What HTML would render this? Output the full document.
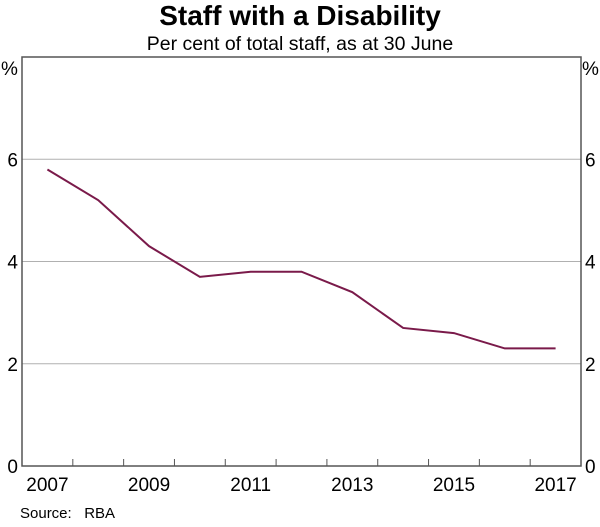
<!DOCTYPE html>
<html><head><meta charset="utf-8"><style>
body{margin:0;background:#fff;}
svg text{font-family:"Liberation Sans",Arial,sans-serif;fill:#000;}
</style></head><body>
<svg width="600" height="522" xmlns="http://www.w3.org/2000/svg">
<text x="300" y="25" text-anchor="middle" font-size="28" font-weight="bold">Staff with a Disability</text>
<text x="300" y="50" text-anchor="middle" font-size="19.5">Per cent of total staff, as at 30 June</text>
<g id="grid"></g>
<g id="yl"></g>
<g id="xt"></g>
<rect x="22" y="57" width="559" height="409" fill="none" stroke="#555" stroke-width="1.5"/>
<text x="1" y="75" font-size="19">%</text>
<text x="582" y="75" font-size="19">%</text>
<path id="line" fill="none" stroke="#7a1a4a" stroke-width="2"/>
<text x="20" y="518" font-size="15" xml:space="preserve">Source:   RBA</text>
</svg>
<script>
const years=[2007,2008,2009,2010,2011,2012,2013,2014,2015,2016,2017];
const values=[5.8,5.2,4.3,3.7,3.8,3.8,3.4,2.7,2.6,2.3,2.3];
const yTicks=[0,2,4,6];
const xLabels=[2007,2009,2011,2013,2015,2017];
const L=22,R=581,T=57,B=466,yMax=8;
const yw=(R-L)/years.length;
function x(yr){return L+(yr-years[0]+0.5)*yw;}
function y(v){return B-(v/yMax)*(B-T);}
const ns="http://www.w3.org/2000/svg";
const grid=document.getElementById('grid'),yl=document.getElementById('yl'),xt=document.getElementById('xt');
yTicks.forEach(t=>{
 if(t>0){const l=document.createElementNS(ns,'line');
 l.setAttribute('x1',L);l.setAttribute('x2',R);l.setAttribute('y1',y(t));l.setAttribute('y2',y(t));
 l.setAttribute('stroke','#b0b0b0');l.setAttribute('stroke-width','1');
 
 
 grid.appendChild(l);}
 [[L-4,'end'],[R+4,'start']].forEach(([px,a])=>{
 const tx=document.createElementNS(ns,'text');
 tx.setAttribute('x',px);tx.setAttribute('y',y(t)+7);tx.setAttribute('text-anchor',a);tx.setAttribute('font-size','19');
 tx.textContent=t;
 
 
 yl.appendChild(tx);});
});
for(let i=1;i<years.length;i++){
 const l=document.createElementNS(ns,'line');const px=L+i*yw;
 l.setAttribute('x1',px);l.setAttribute('x2',px);l.setAttribute('y1',B);l.setAttribute('y2',B-7);
 l.setAttribute('stroke','#555');l.setAttribute('stroke-width','1');
 
 
 xt.appendChild(l);
}
xLabels.forEach(yr=>{
 const tx=document.createElementNS(ns,'text');
 tx.setAttribute('x',x(yr));tx.setAttribute('y',B+25);tx.setAttribute('text-anchor','middle');tx.setAttribute('font-size','19');
 tx.textContent=yr;
 
 
 xt.appendChild(tx);
});
document.getElementById('line').setAttribute('d',years.map((yr,i)=>(i?'L':'M')+x(yr)+','+y(values[i])).join(' '));
</script>
</body></html>
